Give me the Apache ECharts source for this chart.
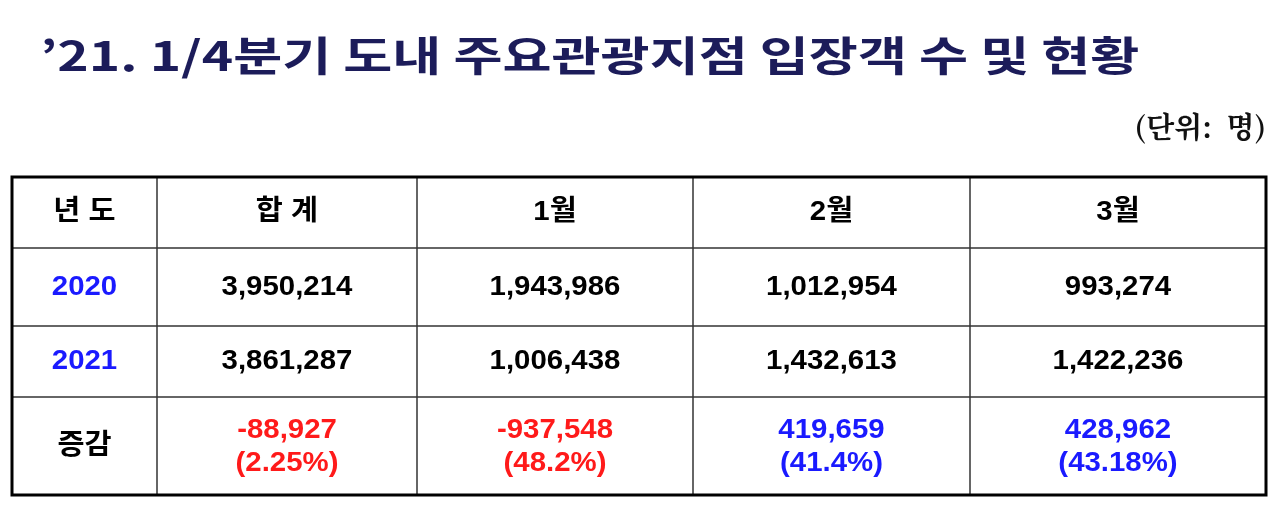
<!DOCTYPE html>
<html><head><meta charset="utf-8">
<script src="https://cdn.jsdelivr.net/npm/echarts@6/dist/echarts.min.js"></script>
<style>html,body{margin:0;padding:0;background:#fff}#c{width:1280px;height:509px}</style>
</head><body><div id="c"></div>
<script>
const title = "’21. 1/4분기 도내 주요관광지점 입장객 수 및 현황";
const unitLabel = "(단위:  명)";
const headers = ["년 도", "합 계", "1월", "2월", "3월"];
const years = ["2020", "2021"];
const values2020 = ["3,950,214", "1,943,986", "1,012,954", "993,274"];
const values2021 = ["3,861,287", "1,006,438", "1,432,613", "1,422,236"];
const changeLabel = "증감";
const changes = ["-88,927", "-937,548", "419,659", "428,962"];
const changePct = ["(2.25%)", "(48.2%)", "(41.4%)", "(43.18%)"];

const colX = [12, 157, 417, 693, 970, 1266];
const rowY = [177, 248, 326, 397, 495];
const FONT = '"Liberation Sans","Noto Sans CJK KR",sans-serif';
const BLUE = '#1a1aff', RED = '#ff1a1a';

const g = [];
function txt(x, y, s, color, size, extra) {
  g.push(Object.assign({type:'text', x, y, scaleX:1.05, style:{text:s, fill:color, font:`bold ${size}px ${FONT}`, align:'center', verticalAlign:'middle'}}, extra||{}));
}
g.push({type:'text', x:40, y:55, scaleX:1.3, style:{text:title, fill:'#1c1c5a', font:`bold 41px "Noto Sans CJK KR",sans-serif`, verticalAlign:'middle'}});
g.push({type:'text', x:1266, y:127, style:{text:unitLabel, fill:'#111', font:`bold 29px "Noto Serif CJK KR","DejaVu Serif",serif`, align:'right', verticalAlign:'middle'}});
for (let i = 1; i < colX.length-1; i++) g.push({type:'line', shape:{x1:colX[i],y1:rowY[0],x2:colX[i],y2:rowY[4]}, style:{stroke:'#333',lineWidth:1.5}});
for (let i = 1; i < rowY.length-1; i++) g.push({type:'line', shape:{x1:colX[0],y1:rowY[i],x2:colX[5],y2:rowY[i]}, style:{stroke:'#333',lineWidth:1.5}});
g.push({type:'rect', shape:{x:colX[0],y:rowY[0],width:colX[5]-colX[0],height:rowY[4]-rowY[0]}, style:{fill:'none',stroke:'#000',lineWidth:3}});
const cx = i => (colX[i]+colX[i+1])/2, cy = j => (rowY[j]+rowY[j+1])/2;
headers.forEach((h,i)=>txt(cx(i), cy(0), h, '#000', 28));
[values2020, values2021].forEach((vals,j)=>{
  txt(cx(0), cy(j+1), years[j], BLUE, 28);
  vals.forEach((v,i)=>txt(cx(i+1), cy(j+1), v, '#000', 28));
});
txt(cx(0), cy(3), changeLabel, '#000', 28);
changes.forEach((v,i)=>{
  const c = v.startsWith('-') ? RED : BLUE;
  txt(cx(i+1), cy(3)-16, v, c, 28);
  txt(cx(i+1), cy(3)+17, changePct[i], c, 28);
});
const chart = echarts.init(document.getElementById('c'));
chart.setOption({animation:false, graphic:g});
</script></body></html>
